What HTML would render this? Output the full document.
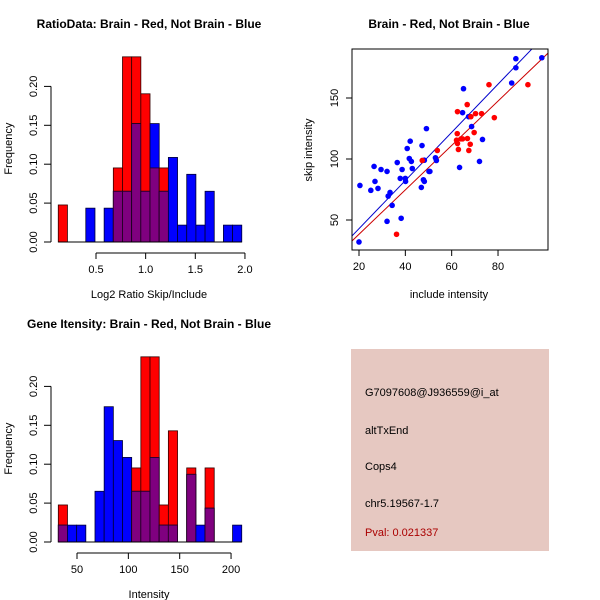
<!DOCTYPE html>
<html><head><meta charset="utf-8"><style>
body{margin:0;background:#fff}
svg{display:block;font-family:"Liberation Sans",sans-serif}
</style></head><body>
<svg id="c" width="600" height="600" xmlns="http://www.w3.org/2000/svg"></svg>
<script>
// Ratio histogram data (20 bins)
const ratioStart = 0.12;
const ratioBinWidth = 0.0924;
const ratioRed = [0.0476,0,0,0,0,0,0.0952,0.238,0.238,0.1905,0.0952,0.0952,0,0,0,0,0,0,0,0];
const ratioBlue = [0,0,0,0.0435,0,0.0435,0.0652,0.0652,0.1522,0.0652,0.1522,0.0652,0.1087,0.0217,0.087,0.0217,0.0652,0,0.0217,0.0217];
const ratioXTicks = [0.5,1.0,1.5,2.0];
const freqTicks = [0,0.05,0.10,0.15,0.20];
// Intensity histogram data
const intStart = 31.8;
const intBinWidth = 8.93;
const intRed = [0.0476,0,0,0,0,0,0,0,0.0952,0.238,0.238,0.0476,0.1429,0,0.0952,0,0.0952,0,0,0];
const intBlue = [0.0217,0.0217,0.0217,0,0.0652,0.1739,0.1304,0.1087,0.0652,0.0652,0.1087,0.0217,0.0217,0,0.087,0.0217,0.0435,0,0,0.0217];
const intXTicks = [50,100,150,200];
// Scatter data
const blueX = [20,20.4,25.1,26.5,26.9,28.2,29.5,32.1,32.1,32.6,33.4,34.3,36.5,37.8,38.2,38.6,40.0,40.1,40.8,41.7,42.1,42.6,43.0,47.2,46.9,47.8,48.2,48.2,49.1,50.2,50.6,53.0,53.4,63.4,64.7,65.1,67.3,68.6,72.0,73.3,85.9,87.7,87.7,98.9];
const blueY = [32,78.3,74.3,93.9,81.6,75.9,91.4,89.8,48.9,69.6,72.6,62.0,97.1,84.1,51.4,91.4,84.1,81.6,108.6,100.4,114.6,98.0,92.2,111.0,76.7,83.0,99.0,81.6,124.9,89.8,89.8,101.0,98.8,93.1,138.0,157.6,134.7,126.6,98.0,116.0,162.3,182.2,174.8,183.0];
const redX = [36.2,47.3,53.8,62.5,62.4,62.1,62.5,62.9,64.0,64.7,66.7,66.8,67.4,68.0,68.3,69.7,70.3,72.9,76.1,78.4,92.9];
const redY = [38.3,98.8,107.0,138.8,120.8,115.4,112.7,107.8,116.5,116.5,144.6,116.8,107.0,112.1,134.7,121.7,137.2,137.2,160.9,133.9,160.9];
const blueFit = [3.4,1.974];
const redFit = [1.9,1.82];
const scXTicks = [20,40,60,80];
const scYTicks = [50,100,150];

const svg = document.getElementById('c');
const NS = 'http://www.w3.org/2000/svg';
function mk(tag, attrs, parent){const e=document.createElementNS(NS,tag);for(const k in attrs)e.setAttribute(k,attrs[k]);(parent||svg).appendChild(e);return e;}
function txt(x,y,s,opts,parent){const e=mk('text',Object.assign({x:x,y:y,'font-size':11,'text-anchor':'middle',fill:'#000'},opts||{}),parent);e.textContent=s;return e;}

function hist(g, base, start, bw, red, blue, xs, xticks, title, xlabel, tickFmt){
  const y = v => base - v*778;
  for(let i=0;i<red.length;i++){
    const x0 = xs(start+i*bw), x1 = xs(start+(i+1)*bw);
    const r=red[i], b=blue[i], m=Math.min(r,b);
    if(r>0){const e=mk('rect',{x:x0,y:y(r),width:x1-x0,height:y(0)-y(r),fill:'#ff0000',stroke:'#300',  'stroke-width':0.8},g);
      
      }
    if(b>0){const e=mk('rect',{x:x0,y:y(b),width:x1-x0,height:y(0)-y(b),fill:'#0000ff',stroke:'#003','stroke-width':0.8},g);
      
      }
    if(m>0){const e=mk('rect',{x:x0,y:y(m),width:x1-x0,height:y(0)-y(m),fill:'#7f007f',stroke:'#200020','stroke-width':0.8},g);
      
      }
  }
  mk('line',{x1:xs(start),x2:xs(start+red.length*bw),y1:base,y2:base,stroke:'#000'},g);
  mk('line',{x1:51,x2:51,y1:y(0),y2:y(0.2),stroke:'#000'},g);
  freqTicks.forEach(t=>{mk('line',{x1:44,x2:51,y1:y(t),y2:y(t),stroke:'#000'},g);
    txt(0,0,t.toFixed(2),{transform:`translate(37,${y(t)}) rotate(-90)`},g);});
  const xa = base+11;
  mk('line',{x1:xs(xticks[0]),x2:xs(xticks[xticks.length-1]),y1:xa,y2:xa,stroke:'#000'},g);
  xticks.forEach(t=>{mk('line',{x1:xs(t),x2:xs(t),y1:xa,y2:xa+6,stroke:'#000'},g);
    txt(xs(t),xa+20,tickFmt(t),{},g);});
  txt(0,0,'Frequency',{transform:`translate(12,${y(0.12)}) rotate(-90)`},g);
  txt(149,base+56,xlabel,{},g);
  txt(149,base-214,title,{'font-weight':'bold','font-size':12},g);
}

const g1 = mk('g',{});


hist(g1,242,ratioStart,ratioBinWidth,ratioRed,ratioBlue,v=>96+(v-0.5)*99.3,ratioXTicks,'RatioData: Brain - Red, Not Brain - Blue','Log2 Ratio Skip/Include',t=>t.toFixed(1));

const g2 = mk('g',{});


hist(g2,542,intStart,intBinWidth,intRed,intBlue,v=>77+(v-50)*1.027,intXTicks,'Gene Itensity: Brain - Red, Not Brain - Blue','Intensity',t=>String(t));

const g3 = mk('g',{});


const sx = v => 359 + (v-20)*2.317;
const sy = v => 98 - (v-150)*1.22;
const L=352,R=548,T=49,B=250;
const cp = mk('clipPath',{id:'clip'},g3);
mk('rect',{x:L,y:T,width:R-L,height:B-T},cp);
const xmin=(L-359)/2.317+20, xmax=(R-359)/2.317+20;
[[redFit,'#cc0000'],[blueFit,'#0000cc']].forEach(([f,c])=>{
  const e=mk('line',{x1:sx(xmin),y1:sy(f[0]+f[1]*xmin),x2:sx(xmax),y2:sy(f[0]+f[1]*xmax),stroke:c,'stroke-width':1,'clip-path':'url(#clip)'},g3);
  
  
});
blueX.forEach((v,i)=>{const e=mk('circle',{cx:sx(v),cy:sy(blueY[i]),r:2.8,fill:'#0000ff'},g3);
  
  });
redX.forEach((v,i)=>{const e=mk('circle',{cx:sx(v),cy:sy(redY[i]),r:2.8,fill:'#ff0000'},g3);
  
  });
mk('rect',{x:L,y:T,width:R-L,height:B-T,fill:'none',stroke:'#000'},g3);
scXTicks.forEach(t=>{mk('line',{x1:sx(t),x2:sx(t),y1:B,y2:B+6,stroke:'#000'},g3);txt(sx(t),B+20,String(t),{},g3);});
scYTicks.forEach(t=>{mk('line',{x1:L-6,x2:L,y1:sy(t),y2:sy(t),stroke:'#000'},g3);
  txt(0,0,String(t),{transform:`translate(338,${sy(t)}) rotate(-90)`},g3);});
txt(449,298,'include intensity',{},g3);
txt(0,0,'skip intensity',{transform:`translate(312,150) rotate(-90)`},g3);
txt(449,28,'Brain - Red, Not Brain - Blue',{'font-weight':'bold','font-size':12},g3);

const g4 = mk('g',{});


mk('rect',{x:351,y:349,width:198,height:202,fill:'#e6c8c1'},g4);
txt(365,396,'G7097608@J936559@i_at',{'text-anchor':'start'},g4);
txt(365,434,'altTxEnd',{'text-anchor':'start'},g4);
txt(365,470,'Cops4',{'text-anchor':'start'},g4);
txt(365,507,'chr5.19567-1.7',{'text-anchor':'start'},g4);
txt(365,536,'Pval: 0.021337',{'text-anchor':'start',fill:'#aa0000'},g4);
</script>
</body></html>
